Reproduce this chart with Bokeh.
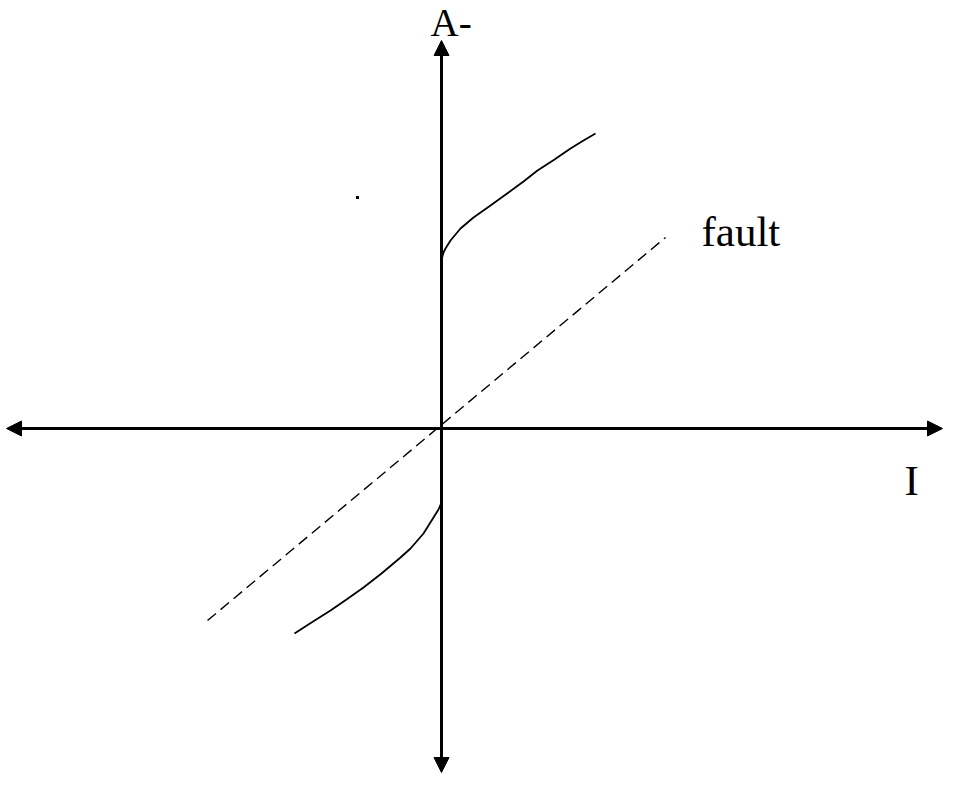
from bokeh.plotting import figure
from bokeh.models import Range1d, Arrow, NormalHead
from bokeh.core.properties import value
from bokeh.embed import file_html
from bokeh.resources import INLINE

# Upper characteristic (starts on the axis, rises vertically, then bends right)
upper_x = [0.0, 0.0, 0.007, 0.02, 0.04, 0.09, 0.19, 0.32, 0.49, 0.67, 0.82, 0.96, 1.13, 1.29, 1.42, 1.54]
upper_y = [0.0, 1.70, 1.713, 1.76, 1.80, 1.88, 2.00, 2.11, 2.23, 2.36, 2.47, 2.58, 2.69, 2.80, 2.88, 2.95]

# Lower characteristic
lower_x = [0.0, -0.03, -0.08, -0.18, -0.31, -0.41, -0.60, -0.78, -0.95, -1.11, -1.30, -1.47]
lower_y = [-0.74, -0.81, -0.89, -1.05, -1.20, -1.29, -1.45, -1.59, -1.71, -1.82, -1.94, -2.05]

# Fault line (dashed, through origin)
fault_x = [-2.34, 2.24]
fault_y = [-1.92, 1.91]

# stray dot
dot_x = [-0.84]
dot_y = [2.31]

labels = ["A-", "fault", "I"]

FONT = value("Liberation Serif")

p = figure(width=944, height=774, output_backend="svg", toolbar_location=None,
           x_range=Range1d(-4.41, 5.03), y_range=Range1d(-3.46, 4.28),
           x_axis_type=None, y_axis_type=None, min_border=0,
           outline_line_color=None, background_fill_color="white",
           border_fill_color="white")
p.grid.visible = False

head = dict(size=15, fill_color="black", line_color="black")
# axes with arrowheads
p.add_layout(Arrow(start=NormalHead(**head), end=NormalHead(**head),
                   x_start=-4.35, y_start=0.0, x_end=5.01, y_end=0.0,
                   line_width=3, line_color="black"))
p.add_layout(Arrow(start=NormalHead(**head), end=NormalHead(**head),
                   x_start=0.0, y_start=-3.44, x_end=0.0, y_end=3.88,
                   line_width=3, line_color="black"))

p.line(upper_x, upper_y, line_color="black", line_width=1.8, line_join="round")
p.line(lower_x, lower_y, line_color="black", line_width=1.8, line_join="round")
p.line(fault_x, fault_y, line_color="black", line_width=1.4, line_dash="11 6")
p.scatter(dot_x, dot_y, marker="square", size=3, fill_color="black", line_color=None)

p.text(x=[-0.11], y=[4.06], text=[labels[0]], text_font=FONT, text_font_size="39px",
       text_align="left", text_baseline="alphabetic", text_color="black")
p.text(x=[2.60], y=[1.97], text=[labels[1]], text_font=FONT, text_font_size="43px",
       text_align="left", text_baseline="alphabetic", text_color="black")
p.text(x=[4.63], y=[-0.52], text=[labels[2]], text_font=FONT, text_font_size="43px",
       text_align="left", text_baseline="alphabetic", text_color="black")

open("out.html", "w").write(file_html(p, INLINE))
